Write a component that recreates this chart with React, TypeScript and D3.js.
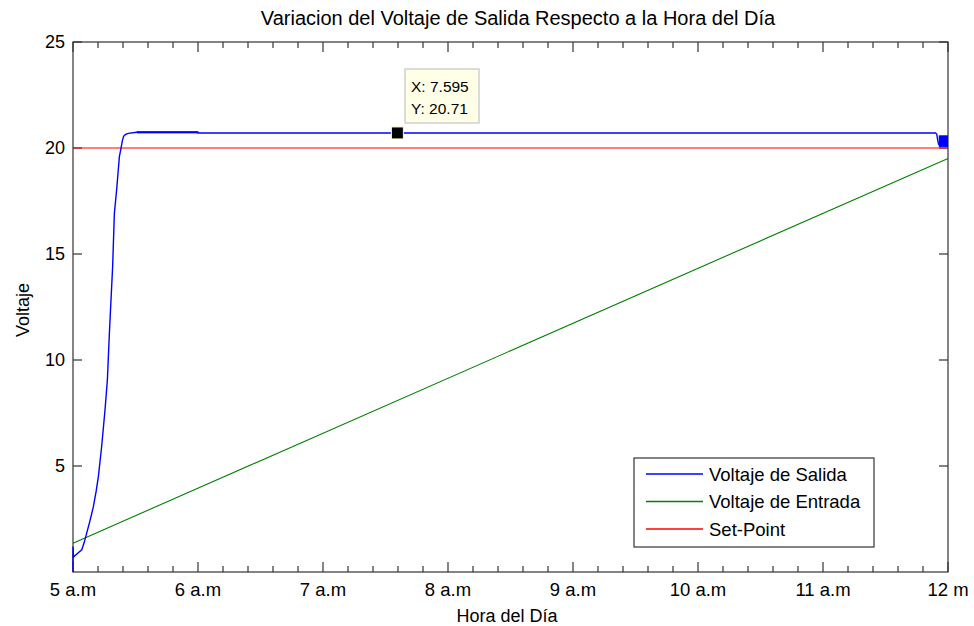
import React from "react";
import * as d3 from "d3";

const W = 974;
const H = 626;

// Hours of day (decimal) and output voltage (Voltaje de Salida)
const salidaX = [5.0, 5.0, 5.004, 5.012, 5.04, 5.07, 5.09, 5.109, 5.135, 5.163, 5.185, 5.203, 5.229, 5.256, 5.275, 5.291, 5.304, 5.317, 5.331, 5.349, 5.371, 5.384, 5.395, 5.405, 5.42, 5.443, 5.51, 6.0, 6.0, 11.9, 11.91, 11.918, 11.926];
const salidaY = [0.0, 1.2, 0.7, 0.75, 0.9, 1.05, 1.4, 1.82, 2.4, 3.08, 3.8, 4.5, 5.91, 7.64, 9.06, 11.26, 12.83, 14.4, 16.92, 18.02, 19.59, 19.98, 20.35, 20.55, 20.64, 20.69, 20.74, 20.74, 20.71, 20.71, 20.66, 20.35, 20.15];

// Oscillation bands of the output voltage: [xStart, xEnd, low, high]
const rippleX0 = [5.51, 11.926];
const rippleX1 = [6.0, 12.0];
const rippleLo = [20.69, 20.05];
const rippleHi = [20.79, 20.6];

// Input voltage (Voltaje de Entrada)
const entradaX = [5.0, 12.0];
const entradaY = [1.36, 19.51];

// Set-Point
const setPointX = [5.0, 12.0];
const setPointY = [20, 20];

// Data tip
const tipX = 7.595;
const tipY = 20.71;

const xTicks = [5, 6, 7, 8, 9, 10, 11, 12];
const xTickLabels = ["5 a.m", "6 a.m", "7 a.m", "8 a.m", "9 a.m", "10 a.m", "11 a.m", "12 m"];
const yTicks = [5, 10, 15, 20, 25];

const legendLabels = ["Voltaje de Salida", "Voltaje de Entrada", "Set-Point"];
const legendColors = ["#0000ff", "#008000", "#ff0000"];

const FONT = "'Liberation Sans', Arial, Helvetica, sans-serif";

export default function App() {
  const left = 73, right = 948, top = 42, bottom = 572;
  const x = d3.scaleLinear().domain([5, 12]).range([left, right]);
  const y = d3.scaleLinear().domain([0, 25]).range([bottom, top]);

  const line = d3.line<[number, number]>().x(d => x(d[0])).y(d => y(d[1]));
  const salida = line(salidaX.map((v, i) => [v, salidaY[i]]))!;
  const entrada = line(entradaX.map((v, i) => [v, entradaY[i]]))!;
  const setp = line(setPointX.map((v, i) => [v, setPointY[i]]))!;

  const minorTicks = d3.range(0, 36).map(i => 5 + i * 0.2).filter(t => Math.abs(t - Math.round(t)) > 1e-6);
  const axisColor = "#333";

  const tx = x(tipX), ty = y(tipY);

  return (
    <svg width={W} height={H} style={{ position: "absolute", left: 0, top: 0, background: "#fff" }} fontFamily={FONT}>
      <rect x={0} y={0} width={W} height={H} fill="#fff" />
      {/* Title */}
      <text x={518} y={25} textAnchor="middle" fontSize={20} fill="#000">
        Variacion del Voltaje de Salida Respecto a la Hora del Día
      </text>
      {/* Plot area */}
      <rect x={left} y={top} width={right - left} height={bottom - top} fill="#fff" />

      {/* Axes box */}
      <rect x={left} y={top} width={right - left} height={bottom - top} fill="none" stroke={axisColor} strokeWidth={1.2} />
      {xTicks.map(t => (
        <g key={"xt" + t}>
          <line x1={x(t)} x2={x(t)} y1={bottom} y2={bottom - 10} stroke={axisColor} strokeWidth={1.2} />
          <line x1={x(t)} x2={x(t)} y1={top} y2={top + 10} stroke={axisColor} strokeWidth={1.2} />
        </g>
      ))}
      {minorTicks.map((t, i) => (
        <g key={"mt" + i}>
          <line x1={x(t)} x2={x(t)} y1={bottom} y2={bottom - 6} stroke={axisColor} strokeWidth={1.2} />
          <line x1={x(t)} x2={x(t)} y1={top} y2={top + 6} stroke={axisColor} strokeWidth={1.2} />
        </g>
      ))}
      {yTicks.map(t => (
        <g key={"yt" + t}>
          <line x1={left} x2={left + 9} y1={y(t)} y2={y(t)} stroke={axisColor} strokeWidth={1.2} />
          <line x1={right} x2={right - 9} y1={y(t)} y2={y(t)} stroke={axisColor} strokeWidth={1.2} />
          <text x={left - 8} y={y(t)} dy="0.36em" textAnchor="end" fontSize={18} fill="#000">{t}</text>
        </g>
      ))}
      {xTicks.map((t, i) => (
        <text key={"xl" + t} x={x(t)} y={596} textAnchor="middle" fontSize={18.5} fill="#000">{xTickLabels[i]}</text>
      ))}

      {/* Series */}
      <path d={entrada} fill="none" stroke="#008000" strokeWidth={1.1} />
      <path d={setp} fill="none" stroke="#ff0000" strokeWidth={1.2} />
      <path d={salida} fill="none" stroke="#0000ff" strokeWidth={1.4} />
      {rippleX0.map((x0, i) => (
        <rect key={i} x={x(x0)} y={y(rippleHi[i])} width={x(rippleX1[i]) - x(x0)} height={y(rippleLo[i]) - y(rippleHi[i])} fill="#0000ff" />
      ))}

      {/* Axis labels */}
      <text x={507} y={622} textAnchor="middle" fontSize={18} fill="#000">Hora del Día</text>
      <text transform={`translate(29,${310}) rotate(-90)`} textAnchor="middle" fontSize={18} fill="#000">Voltaje</text>

      {/* Data tip */}
      <rect x={tx - 6} y={ty - 6} width={12} height={12} fill="#000" stroke="#ffffd0" strokeWidth={1} />
      <rect x={405} y={69} width={74} height={54} fill="#ffffe8" stroke="#d0d0d0" strokeWidth={1.5} />
      <text x={411} y={92} fontSize={15.5} fill="#000">X: {tipX}</text>
      <text x={411} y={114} fontSize={15.5} fill="#000">Y: {tipY}</text>

      {/* Legend */}
      <rect x={634} y={458} width={240} height={89} fill="#fff" stroke="#333" strokeWidth={1.2} />
      {legendLabels.map((lab, i) => (
        <g key={lab}>
          <line x1={646} x2={703} y1={474 + i * 27.5} y2={474 + i * 27.5} stroke={legendColors[i]} strokeWidth={1.3} />
          <text x={709} y={474 + i * 27.5} dy="0.36em" fontSize={18.5} fill="#000">{lab}</text>
        </g>
      ))}
    </svg>
  );
}
